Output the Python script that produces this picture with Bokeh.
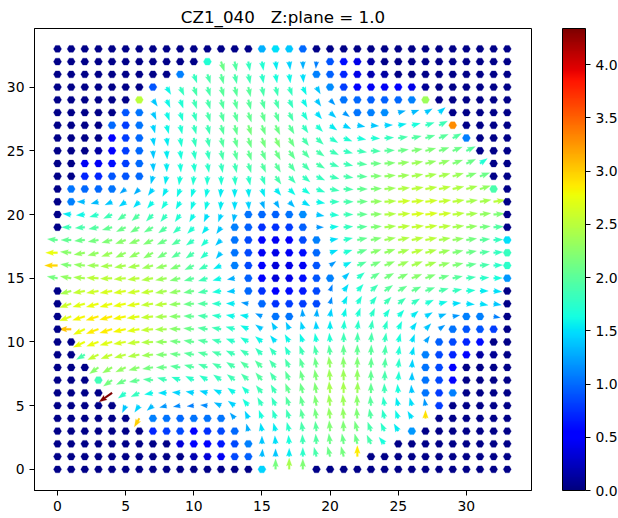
import numpy as np
from bokeh.plotting import figure
from bokeh.models import ColorBar, LinearColorMapper, FixedTicker, PrintfTickFormatter, ColumnDataSource
from bokeh.transform import transform
from bokeh.embed import file_html
from bokeh.resources import INLINE

n = 0.05   # near-zero colour value
d = -1     # no arrow drawn: the cell shows as a dot

TITLE = "CZ1_040\u00a0\u00a0\u00a0Z:plane = 1.0"
X_TICKS = [0, 5, 10, 15, 20, 25, 30]
Y_TICKS = [0, 5, 10, 15, 20, 25, 30]
CBAR_TICKS = [0.0, 0.5, 1.0, 1.5, 2.0, 2.5, 3.0, 3.5, 4.0]
VMAX = 4.34

# colour value per cell, rows from y=33 down to y=0, columns x=0..33
C = [
 [n]*15+[1.3,1.5,1.4,1.0]+[n]*15,
 [n]*11+[1.7,2.1,1.95,1.8,1.7,1.55,1.45,1.3,1.1,.9,.6,.4,.15]+[n]*10,
 [n]*9+[1.1,1.8,1.9,2.0,1.9,1.85,1.75,1.65,1.6,1.5,1.1,.95,.7,.4,.2,.15]+[n]*9,
 [n]*7+[.9,1.6,1.8,1.9,1.9,2.0,2.0,2.0,1.9,1.85,1.8,1.6,1.4,1.15,.8,.55,.45,.45,.5,.4,.1]+[n]*6,
 [n]*6+[2.5,1.4,1.6,1.7,1.85,1.9,1.95,2,2,1.95,1.9,1.8,1.6,1.4,1.2,1.05,1,.95,.95,1,1.1,2.35]+[n]*6,
 [n]*5+[.9,1.05,1.4,1.6,1.7,1.8,1.9,1.95,2,2.05,2.05,2,1.9,1.7,1.5,1.4,1.2,1.05,1.1,1.15,1.3,1.35,1.4,1.45]+[n]*5,
 [n]*4+[1.0,.8,1.05,1.45,1.6,1.7,1.8,1.85,1.95,2.05,2.15,2.1,2.1,2,1.8,1.7,1.55,1.45,1.4,1.4,1.45,1.55,1.65,1.8,1.85,3.3]+[n]*4,
 [n]*4+[.5,.8,1.0,1.45,1.55,1.7,1.8,1.85,1.95,2.05,2.1,2.15,2.2,2.1,1.9,1.85,1.75,1.7,1.65,1.7,1.8,1.9,1.95,2,2,1.95,1.1]+[n]*3,
 [n]*3+[.15,.5,.8,1,1.4,1.55,1.65,1.75,1.8,1.9,2,2.05,2.05,2.1,2.05,1.95,1.9,1.85,1.8,1.85,1.9,2,2.1,2.2,2.2,2.15,2.1,2]+[n]*3,
 [n]*2+[.45,.45,.6,.8,1,1.4,1.55,1.65,1.7,1.75,1.8,1.85,1.9,1.95,2,1.95,1.9,1.9,1.85,1.85,1.95,2.1,2.2,2.3,2.35,2.3,2.3,2.2,2.1,1.7]+[n]*2,
 [n]*2+[.7,.7,.9,.9,1,1.4,1.55,1.65,1.7,1.7,1.7,1.75,1.75,1.8,1.9,1.85,1.8,1.8,1.85,1.9,2,2.2,2.3,2.35,2.4,2.4,2.4,2.35,2.2,2.1]+[n]*2,
 [n,1.05,1,1,1.05,1.25,1.3,1.45,1.55,1.6,1.6,1.6,1.55,1.55,1.55,1.55,1.55,1.6,1.65,1.75,1.85,1.9,2.05,2.2,2.35,2.45,2.5,2.5,2.5,2.45,2.4,2.3,1.9,n],
 [n,1.1,1.35,1.35,1.4,1.45,1.5,1.6,1.65,1.6,1.6,1.6,1.55,1.5,1.45,1.3,1.3,1.35,1.5,1.6,1.8,1.9,2.1,2.3,2.45,2.6,2.6,2.6,2.55,2.5,2.4,2.4,2.5,n],
 [n,1.55,1.6,1.75,1.85,1.95,1.95,1.85,1.8,1.7,1.6,1.5,1.45,1.35,1.05,1,.95,1.05,1.15,1.4,1.7,1.85,2.05,2.25,2.45,2.55,2.65,2.65,2.6,2.5,2.4,2.3,2.2,n],
 [n,1.85,1.9,1.95,2.05,2.1,2.1,2.05,1.95,1.8,1.7,1.55,1.4,1.1,.95,.75,.75,.8,.95,1.2,1.6,1.8,2,2.2,2.4,2.5,2.55,2.55,2.5,2.4,2.3,2.15,1.95,n],
 [2.05,2.05,2.1,2.15,2.2,2.25,2.25,2.2,2.1,1.95,1.8,1.7,1.4,1.05,.85,.5,.45,.55,.85,1.1,1.5,1.75,2.05,2.2,2.35,2.45,2.5,2.5,2.4,2.3,2.15,2,1.8,1.5],
 [2.75,2.25,2.3,2.3,2.35,2.3,2.3,2.25,2.15,2,1.9,1.75,1.4,1.05,.85,.45,.4,.45,.6,1.0,1.5,1.7,2.05,2.25,2.3,2.4,2.5,2.45,2.35,2.2,2.1,1.95,1.8,1.8],
 [2.95,2.2,2.3,2.35,2.4,2.4,2.4,2.35,2.3,2.2,2,1.85,1.55,1.1,.85,.5,.35,.4,.45,.9,1.2,1.55,1.95,2.15,2.25,2.35,2.4,2.4,2.3,2.2,2.05,1.9,1.75,1.75],
 [2.15,2.3,2.4,2.5,2.5,2.5,2.5,2.45,2.35,2.2,2,1.85,1.6,1.3,.95,.55,.35,.4,.6,.9,1.1,1.4,1.75,2.05,2.15,2.2,2.25,2.2,2.1,2,1.85,1.75,1.65,1.2],
 [n,2.4,2.55,2.6,2.65,2.65,2.6,2.55,2.4,2.3,2.1,1.9,1.65,1.4,1,.75,.55,.6,.65,.85,1.1,1.5,1.7,1.85,2,2.05,2.05,2,1.9,1.8,1.7,1.55,1.5,n],
 [n,2.6,2.7,2.75,2.75,2.75,2.7,2.55,2.5,2.3,2.1,1.95,1.75,1.55,1.2,1,.75,.8,.8,.85,1.15,1.55,1.7,1.75,1.85,1.85,1.8,1.7,1.6,1.5,1.5,1.5,1.4,n],
 [n,2.7,2.8,2.85,2.85,2.8,2.7,2.55,2.4,2.25,2.05,1.9,1.75,1.6,1.55,1.2,1.05,1.05,1.25,1.3,1.45,1.6,1.7,1.75,1.7,1.65,1.55,1.45,1.35,1.2,1.1,1.1,1.1,n],
 [n,3.05,2.75,2.85,2.85,2.8,2.7,2.55,2.4,2.25,2.1,1.95,1.85,1.75,1.6,1.4,1.4,1.4,1.45,1.45,1.55,1.7,1.75,1.8,1.75,1.65,1.5,1.4,1.2,1.05,.9,.9,.8,n],
 [n,n,2.75,2.75,2.7,2.65,2.55,2.45,2.3,2.15,2.05,1.95,1.85,1.75,1.7,1.6,1.5,1.6,1.6,1.65,1.7,1.85,1.9,1.9,1.8,1.65,1.5,1.25,.95,.85,.7,.6,n,n],
 [n,n,1.9,2.55,2.55,2.5,2.45,2.35,2.2,2.1,2,1.95,1.9,1.85,1.85,1.8,1.8,1.75,1.85,1.9,1.95,2.05,2.05,2,1.9,1.7,1.5,1.1,.85,.7,.5,.15,.1,n],
 [n,n,n,2.25,2.3,2.3,2.25,2.15,2.1,2,1.95,1.9,1.9,1.9,1.95,1.95,1.9,1.9,2,2.1,2.3,2.25,2.2,2.05,1.95,1.75,1.45,1.05,.85,.55,n,n,n,n],
 [n,n,n,1.85,2.15,2.1,2.05,1.95,1.85,1.75,1.75,1.75,1.8,1.85,1.9,1.95,1.9,2,2.1,2.2,2.35,2.35,2.3,2.05,1.9,1.7,1.4,1.05,.85,.5,n,n,n,n],
 [n,n,n,n,4.34,1.75,1.8,1.6,1.5,1.45,1.45,1.45,1.5,1.6,1.7,1.85,1.85,2.05,2.1,2.2,2.4,2.4,2.35,2.05,1.85,1.65,1.4,1.05,.8,1.1,n,n,n,n],
 [n]*5+[1.4,1.45,1.35,1.2,1.15,1.1,1.15,1.35,1.45,1.65,1.8,1.8,1.95,2.05,2.2,2.35,2.35,2.25,2,1.75,1.55,1.5,1.2,.8]+[n]*5,
 [n]*6+[3,1.1,1.05,1,1.05,1.05,1.05,1.25,1.45,1.65,1.75,1.85,2,2.15,2.3,2.3,2.2,1.95,1.75,1.6,1.5,2.9]+[n]*6,
 [n]*7+[.7,.8,.85,.55,.75,.85,1,1.3,1.5,1.55,1.75,1.9,2,2.2,2.2,2.15,1.9,1.75,1.55,1.2]+[n]*7,
 [n]*9+[.35,.5,.55,.65,.85,1.1,1.4,1.5,1.65,1.85,1.95,2.1,2.1,2.1,1.9,1.65]+[n]*9,
 [n]*10+[.2,.35,.45,.85,.95,1.35,1.4,1.55,1.75,1.9,2.1,2.15,2.85]+[n]*11,
 [n]*15+[1.45,2.15,2.4,2.2]+[n]*15,
]

# arrow direction in degrees on screen, same layout
A = [
 [d]*34,
 [d]*12+[289,281,280,280,278,277,272,265]+[d]*14,
 [d]*10+[290,288,285,283,282,280,280,278,275]+[d]*15,
 [d]*8+[300,295,290,288,287,285,283,282,285,290,295,300]+[d]*14,
 [d]*7+[305,295,290,288,287,286,285,285,287,290,295,300,305,315]+[d]*13,
 [d]*7+[295,290,288,287,287,287,287,288,288,290,295,302,310,320,325,d,d,d,15,20,30,40]+[d]*5,
 [d]*7+[285,285,283,285,285,287,285,288,290,295,300,305,315,325,335,350,355,3,10,13,18,27]+[d]*5,
 [d]*7+[280,280,280,283,283,285,286,288,290,295,300,308,318,330,340,350,357,3,8,12,17,22,27]+[d]*4,
 [d]*7+[275,275,278,280,282,283,285,288,292,298,305,312,325,335,345,352,358,3,7,10,14,18,22,25]+[d]*3,
 [d]*7+[275,272,275,278,280,280,282,287,293,300,307,315,330,340,347,355,0,4,8,10,14,17,20,25,35]+[d]*2,
 [d]*7+[255,260,262,265,268,272,275,282,290,305,312,322,335,345,352,358,2,5,7,10,12,14,16,18,20]+[d]*2,
 [d]*5+[218,225,234,242,248,252,258,265,270,275,290,310,315,325,340,350,357,0,3,5,7,9,10,12,13,15,17]+[d]*2,
 [d]*2+[180,195,205,215,225,230,235,240,250,255,265,270,275,290,300,315,330,350,0,0,2,3,4,5,6,7,8,9,9,10,9]+[d],
 [d]+[175,185,195,205,215,220,225,230,235,240,245,250,260]+[d]*5+[350,355,0,2,3,4,5,6,7,7,7,7,7,5]+[d],
 [d]+[180,185,190,195,205,210,210,215,220,225,230,235]+[d]*6+[0,5,5,5,5,6,7,7,8,8,8,7,6,5]+[d],
 [175,180,185,190,195,200,200,205,205,210,215,225,225]+[d]*7+[8,12,12,12,12,12,12,11,10,9,8,6,3]+[d],
 [180,175,190,195,200,205,205,210,210,210,215,220,230]+[d]*7+[20,18,18,18,18,17,16,15,14,12,10,7,4]+[d],
 [180,173,175,180,185,190,190,195,195,200,205,205,205]+[d]*7+[35,25,22,22,22,22,20,18,15,12,10,6,3]+[d],
 [170,170,175,178,182,185,187,190,190,193,195,197,195,190]+[d]*7+[45,38,32,28,25,22,20,15,12,8,5,2]+[d],
 [d]+[195,190,190,190,190,190,190,190,190,190,190,188,185]+[d]*6+[70,55,48,42,35,30,25,20,15,10,5,0,355]+[d],
 [d]+[198,195,195,195,192,190,188,187,185,183,180,180,178,170]+[d]*5+[75,65,60,52,45,38,32,25,15,5,355,350,350]+[d],
 [d]+[200,197,197,195,192,188,186,183,180,178,175,172,170,170,155]+[d,d]+[95,85,80,75,70,65,55,48,40,30,20,10]+[d,d,350,d],
 [d]+[180,205,200,197,193,190,185,182,178,175,172,170,165,155,145,120]+[115,105,95,90,85,82,80,72,65,55,45,35]+[d]*5,
 [d,d]+[205,200,195,190,187,183,180,175,172,168,165,160,150,140,130]+[120,110,100,95,90,88,85,80,75,70,55]+[d]*6,
 [d,d]+[210,205,200,195,190,185,180,175,170,165,160,155,148,135,130]+[118,110,103,97,92,90,88,83,80,75]+[d]*7,
 [d]*3+[215,210,205,195,188,180,172,165,160,155,148,143,135,130]+[115,108,100,97,93,90,88,85,83,85]+[d]*7,
 [d]*4+[215,205,190,175,165,160,155,150,145,143,138,130,125]+[113,105,100,95,92,90,90,88,85,88]+[d]*7,
 [d]*4+[215,215,205,190,180,175,170,165,155,145,135,128,120]+[112,105,100,95,92,88,90,92,95,95]+[d]*7,
 [d]*5+[245,235,220,195,190,185,175,155,145,130,118,115]+[110,105,100,97,95,93,95,100,105,105,100]+[d]*6,
 [d]*6+[240]+[d]*6+[130,115,110,110]+[108,103,100,97,95,95,100,105,110,120,90]+[d]*6,
 [d]*14+[105,100,105]+[105,100,97,95,93,105,110,115,120]+[d]*8,
 [d]*15+[90,95]+[95,93,95,97,100,105,115,130]+[d]*9,
 [d]*15+[85,90]+[90,90,105,105,105,90]+[d]*11,
 [d]*16+[90,90,90]+[d]*15,
]

# arrows whose in-plane speed is clearly below their colour value: (x, y): speed
IN_PLANE = {(4, 6): 3.7, (6, 4): 2.0, (27, 4): 1.45, (1, 11): 2.65,
            (0, 16): 2.85, (0, 17): 2.55, (22, 1): 2.3}

# --- layout (pixels inside the figure)
W, H = 618, 518
FL, FR, FT, FB = 34, 531, 28, 490
X0, X1 = -1.69, 34.78
Y0, Y1 = -1.66, 34.6
PX = (FR - FL) / (X1 - X0)
PY = (FB - FT) / (Y1 - Y0)
LEN_BASE, LEN_PER_UNIT = 3.0, 3.5   # arrow length in pixels from speed
SHAFT = 1.9         # shaft width, pixels


def jet(t):
    r = np.interp(t, [0, .35, .66, .89, 1], [0, 0, 1, 1, .5])
    g = np.interp(t, [0, .125, .375, .64, .91, 1], [0, 0, 1, 1, 0, 0])
    b = np.interp(t, [0, .11, .34, .65, 1], [.5, 1, 1, 0, 0])
    return "#%02x%02x%02x" % (int(r * 255), int(g * 255), int(b * 255))


palette = [jet(i / 255) for i in range(256)]
mapper = LinearColorMapper(palette=palette, low=0, high=VMAX)


def arrow(x, y, angle, length):
    w = SHAFT
    head = 4.2 * w
    k = min(1.0, length / head)
    w2, hw, hl, hax = w * k / 2, 1.5 * w * k, 4.2 * w * k, 3.7 * w * k
    L = length
    px = [0, L - hax, L - hl, L, L - hl, L - hax, 0]
    py = [-w2, -w2, -hw, 0, hw, w2, w2]
    a = np.radians(angle)
    sx = [p * np.cos(a) - q * np.sin(a) for p, q in zip(px, py)]
    sy = [p * np.sin(a) + q * np.cos(a) for p, q in zip(px, py)]
    return [x + v / PX for v in sx], [y + v / PY for v in sy]


dx, dy, dc, xs, ys, ac = [], [], [], [], [], []
for r, (crow, arow) in enumerate(zip(C, A)):
    y = 33 - r
    for x, (c, a) in enumerate(zip(crow, arow)):
        if a == d:
            dx.append(x); dy.append(y); dc.append(c)
        else:
            speed = IN_PLANE.get((x, y), c)
            ax_, ay_ = arrow(x, y, a, LEN_BASE + speed * LEN_PER_UNIT)
            xs.append(ax_); ys.append(ay_); ac.append(c)

p = figure(width=W, height=H, x_range=(X0, X1), y_range=(Y0, Y1),
           output_backend="svg", toolbar_location=None,
           min_border_left=FL, min_border_right=W - FR, min_border_top=FT, min_border_bottom=H - FB,
           background_fill_color="white", border_fill_color="white")

p.patches("xs", "ys", source=ColumnDataSource(dict(xs=xs, ys=ys, c=ac)),
          fill_color=transform("c", mapper), line_color=transform("c", mapper), line_width=0.2)
p.scatter("x", "y", source=ColumnDataSource(dict(x=dx, y=dy, c=dc)), marker="hex", size=8,
          fill_color=transform("c", mapper), line_color=transform("c", mapper), line_width=0.3)

p.title.text = TITLE
p.title.align = "center"
p.title.text_font = "DejaVu Sans"
p.title.text_font_size = "16.7px"
p.title.text_font_style = "normal"
p.title.text_color = "black"
p.title.offset = 0
p.title.standoff = 4

for ax, ticks in ((p.xaxis[0], X_TICKS), (p.yaxis[0], Y_TICKS)):
    ax.ticker = FixedTicker(ticks=ticks)
    ax.major_label_text_font = "DejaVu Sans"
    ax.major_label_text_font_size = "13.9px"
    ax.major_label_text_color = "black"
    ax.major_tick_in = 0
    ax.major_tick_out = 5
    ax.minor_tick_line_color = None
    ax.major_tick_line_color = "black"
    ax.axis_line_color = "black"
    ax.major_label_standoff = 5
p.grid.visible = False
p.outline_line_color = "black"
p.outline_line_width = 1

cb = ColorBar(color_mapper=mapper, width=23, height=FB - FT, padding=0, margin=0,
              location=(FR - FL + 31, 0),
              ticker=FixedTicker(ticks=CBAR_TICKS), formatter=PrintfTickFormatter(format="%.1f"),
              major_tick_in=0, major_tick_out=5, major_tick_line_color="black",
              minor_tick_line_color=None, bar_line_color="black",
              major_label_text_font="DejaVu Sans", major_label_text_font_size="13.9px",
              major_label_text_color="black", label_standoff=5)
p.add_layout(cb, "center")

open("out.html", "w").write(file_html(p, INLINE))
